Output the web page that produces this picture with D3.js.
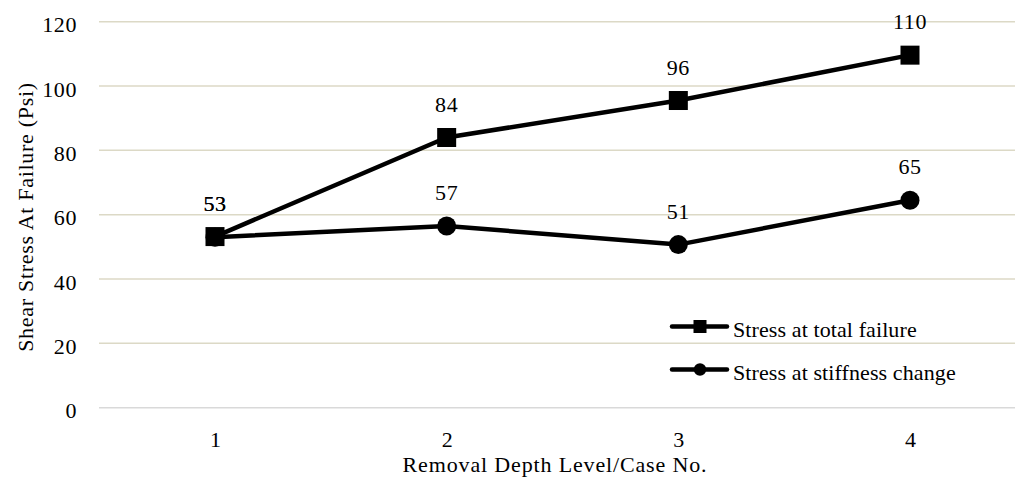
<!DOCTYPE html>
<html><head><meta charset="utf-8">
<script src="https://cdn.jsdelivr.net/npm/d3@7"></script>
<style>body{margin:0;background:#fff}svg{display:block}</style>
</head><body>
<svg id="c" width="1015" height="478"></svg>
<script>
const cases = [1, 2, 3, 4];
const totalFailure = [53.2, 84, 95.5, 109.6];
const stiffnessChange = [53, 56.5, 50.7, 64.5];
const yTicks = [0, 20, 40, 60, 80, 100, 120];
const seriesNames = ["Stress at total failure", "Stress at stiffness change"];
const xTitle = "Removal Depth Level/Case No.";
const yTitle = "Shear Stress At Failure (Psi)";

const FONT = "Liberation Serif";
const svg = d3.select("#c");
const x = d3.scalePoint().domain(cases).range([215, 910]);
const y = d3.scaleLinear().domain([0, 120]).range([407.7, 21.7]);
const gridLeft = 99, gridRight = 1027;

function serif(sel, size, ls) {
  sel.attr("font-family", FONT).style("font-family", FONT)
    .attr("font-size", size).style("font-size", size + "px")
    .attr("letter-spacing", ls).attr("fill", "#000");
  return sel;
}

// gridlines
svg.append("g").selectAll("line").data(yTicks).join("line")
  .attr("x1", gridLeft).attr("x2", gridRight)
  .attr("y1", d => y(d)).attr("y2", d => y(d))
  .attr("stroke", d => d === 0 ? "#d9d9d9" : "#dcd9c6").attr("stroke-width", 1.5);

// y axis labels
const yAxis = d3.axisLeft(y).tickValues(yTicks).tickSize(0).tickPadding(0);
const ya = svg.append("g").attr("transform", "translate(77,0)").call(yAxis);
ya.attr("font-family", null).attr("font-size", null);
ya.select(".domain").remove();
serif(ya.selectAll("text").attr("dy", null).attr("y", 10).attr("x", 0), 22, 0.6);

// x axis labels
const xAxis = d3.axisBottom(x).tickSize(0).tickPadding(0);
const xa = svg.append("g").attr("transform", "translate(0,447)").call(xAxis);
xa.attr("font-family", null).attr("font-size", null);
xa.select(".domain").remove();
serif(xa.selectAll("text").attr("dy", null).attr("y", 0), 22, 0);

// titles
serif(svg.append("text").attr("x", 555).attr("y", 472).attr("text-anchor", "middle"), 22, 0.85).text(xTitle);
serif(svg.append("text").attr("transform", "translate(33,217) rotate(-90)").attr("text-anchor", "middle"), 22, 0.7).text(yTitle);

const line = d3.line().x((d, i) => x(cases[i])).y(d => y(d));
const fmt = d => String(Math.round(d));

function drawSeries(vals, shape) {
  svg.append("path").datum(vals).attr("d", line).attr("fill", "none")
    .attr("stroke", "#000").attr("stroke-width", 4.5).attr("stroke-linejoin", "round");
  const g = svg.append("g");
  if (shape === "square") {
    g.selectAll("rect").data(vals).join("rect")
      .attr("x", (d, i) => x(cases[i]) - 9.5).attr("y", d => y(d) - 9.5)
      .attr("width", 19).attr("height", 19).attr("fill", "#000");
  } else {
    g.selectAll("circle").data(vals).join("circle")
      .attr("cx", (d, i) => x(cases[i])).attr("cy", d => y(d)).attr("r", 9.5).attr("fill", "#000");
  }
  serif(svg.append("g").selectAll("text").data(vals).join("text")
    .attr("x", (d, i) => x(cases[i])).attr("y", d => y(d) - 26)
    .attr("text-anchor", "middle"), 22, 0.6).text(fmt);
}
drawSeries(stiffnessChange, "circle");
drawSeries(totalFailure, "square");

// legend
const legY = [326.5, 369.5];
seriesNames.forEach((name, i) => {
  const g = svg.append("g");
  g.append("line").attr("x1", 672).attr("x2", 727).attr("y1", legY[i]).attr("y2", legY[i])
    .attr("stroke", "#000").attr("stroke-width", 4.5).attr("stroke-linecap", "round");
  if (i === 0) g.append("rect").attr("x", 693.5).attr("y", legY[i] - 6.5).attr("width", 13).attr("height", 13).attr("fill", "#000");
  else g.append("circle").attr("cx", 700).attr("cy", legY[i]).attr("r", 6.2).attr("fill", "#000");
  serif(g.append("text").attr("x", 733).attr("y", legY[i] + 10), 22, 0.1).text(name);
});
</script>
</body></html>
